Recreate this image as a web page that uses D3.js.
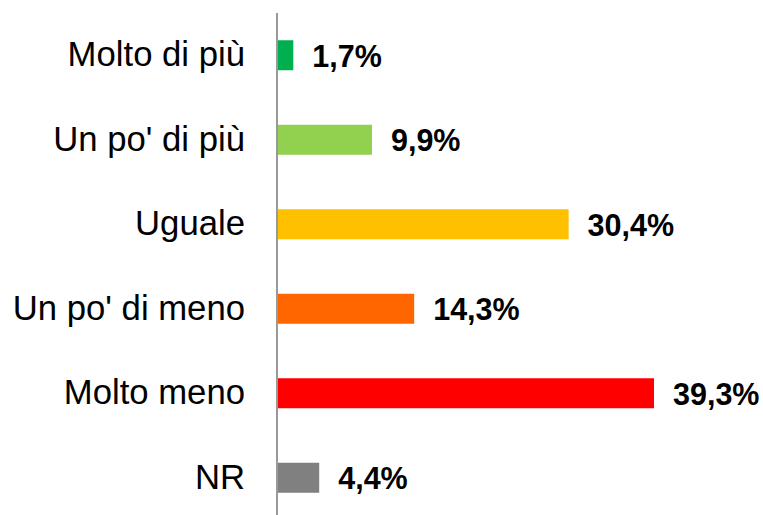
<!DOCTYPE html>
<html>
<head>
<meta charset="utf-8">
<script src="https://cdn.jsdelivr.net/npm/d3@7"></script>
<style>
  body { margin: 0; background: #fff; }
  text { font-family: "Liberation Sans", Arial, sans-serif; }
</style>
</head>
<body>
<div class="chart"></div>
<script>
// data
var categories = ["Molto di più", "Un po' di più", "Uguale", "Un po' di meno", "Molto meno", "NR"];
var values = [1.7, 9.9, 30.4, 14.3, 39.3, 4.4];
var labels = ["1,7%", "9,9%", "30,4%", "14,3%", "39,3%", "4,4%"];
var colors = ["#00b050", "#92d050", "#ffc000", "#ff6600", "#ff0000", "#808080"];

var W = 763, H = 515;
var left = 277;

var svg = d3.select(".chart")
    .append("svg")
    .attr("width", W)
    .attr("height", H);

// scales
var x = d3.scaleLinear().domain([0, 39.3]).range([left, 654]);
var y = d3.scaleBand().domain(categories).range([13, 520])
    .paddingInner(0.645).paddingOuter(0.3225);

// bars
svg.selectAll(".bar")
    .data(values)
  .enter().append("rect")
    .attr("class", "bar")
    .attr("x", x(0))
    .attr("y", function(d, i) { return y(categories[i]); })
    .attr("width", function(d) { return x(d) - x(0); })
    .attr("height", y.bandwidth())
    .attr("fill", function(d, i) { return colors[i]; });

// value labels
svg.selectAll(".val")
    .data(values)
  .enter().append("text")
    .attr("class", "val")
    .attr("x", function(d) { return x(d) + 19; })
    .attr("y", function(d, i) { return y(categories[i]) + y.bandwidth() / 2; })
    .attr("dy", "0.37em")
    .style("font-size", "30.5px")
    .style("font-weight", "bold")
    .attr("fill", "#000")
    .text(function(d, i) { return labels[i]; });

// category axis
var axis = svg.append("g")
    .attr("transform", "translate(" + left + ",0)")
    .call(d3.axisLeft(y).tickSize(0).tickPadding(32));
axis.select(".domain").remove();
axis.selectAll("text")
    .style("font-size", "34.7px")
    .style("font-family", "'Liberation Sans', Arial, sans-serif")
    .attr("fill", "#000");

svg.append("line")
    .attr("x1", left).attr("x2", left)
    .attr("y1", 13).attr("y2", H)
    .attr("stroke", "#999")
    .attr("stroke-width", 2);
</script>
</body>
</html>
